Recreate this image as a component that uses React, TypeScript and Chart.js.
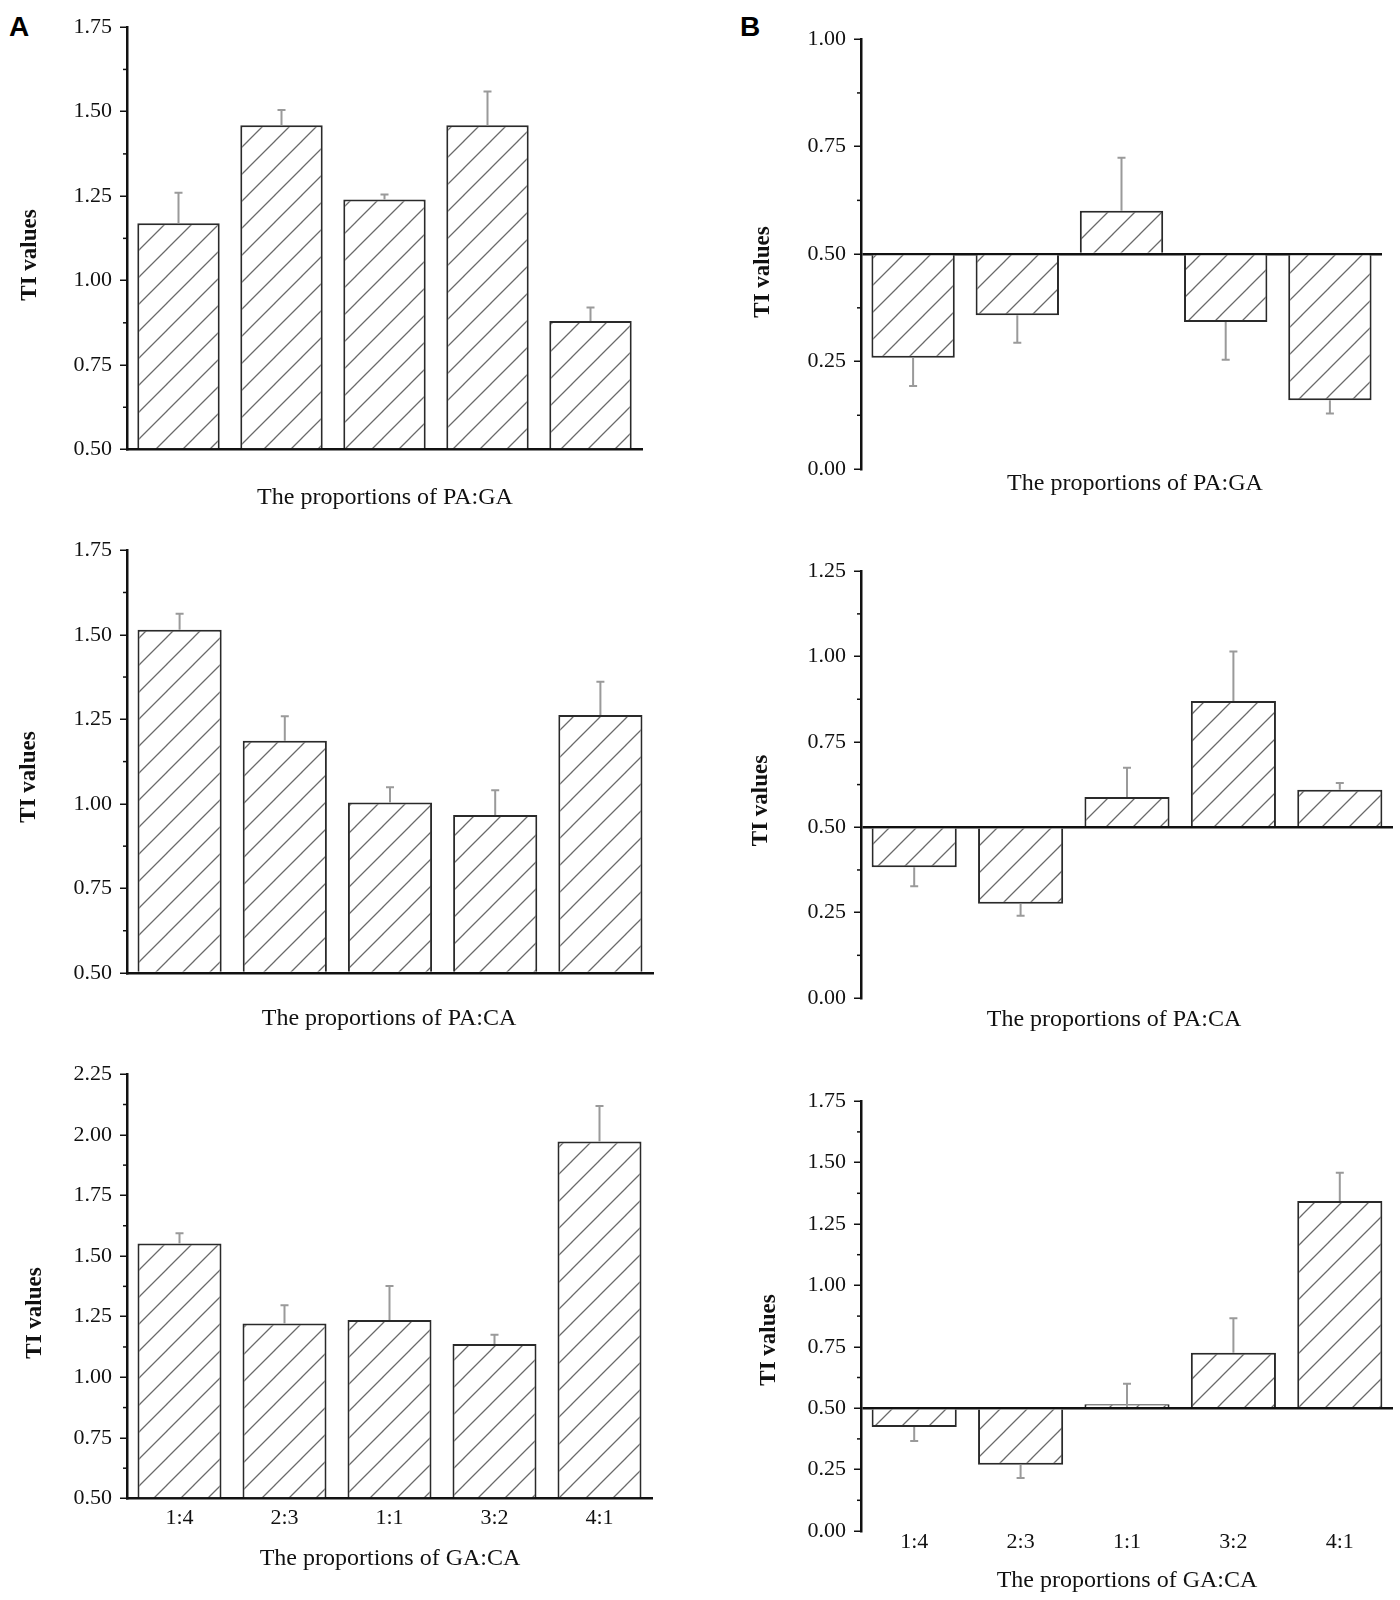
import React, { useEffect, useRef } from 'react';
import { Chart, registerables } from 'chart.js';

Chart.register(...registerables);

const SERIF = '"Liberation Serif", "Times New Roman", serif';
Chart.defaults.font.family = SERIF;

// proportions on the x axis
const PROPORTIONS = ['1:4', '2:3', '1:1', '3:2', '4:1'];

// column A: TI values and their upper error (SD)
const A_PA_GA = [1.17, 1.46, 1.24, 1.46, 0.88];
const A_PA_GA_SD = [0.09, 0.045, 0.015, 0.1, 0.04];
const A_PA_CA = [1.515, 1.187, 1.004, 0.967, 1.263];
const A_PA_CA_SD = [0.047, 0.072, 0.045, 0.073, 0.098];
const A_GA_CA = [1.552, 1.222, 1.236, 1.137, 1.972];
const A_GA_CA_SD = [0.042, 0.075, 0.14, 0.038, 0.147];

// column B: bars hang from the 0.50 line
const B_PA_GA = [0.259, 0.358, 0.601, 0.342, 0.16];
const B_PA_GA_SD = [0.066, 0.064, 0.123, 0.088, 0.031];
const B_PA_CA = [0.383, 0.276, 0.589, 0.87, 0.61];
const B_PA_CA_SD = [0.056, 0.035, 0.085, 0.145, 0.02];
const B_GA_CA = [0.423, 0.27, 0.505, 0.726, 1.344];
const B_GA_CA_SD = [0.057, 0.054, 0.095, 0.14, 0.115];

const BASE = 0.5;

function makeHatch(): CanvasPattern | string {
  const size = 27;
  const c = document.createElement('canvas');
  c.width = size;
  c.height = size;
  const g = c.getContext('2d');
  if (!g) return '#fff';
  g.fillStyle = '#fff';
  g.fillRect(0, 0, size, size);
  g.strokeStyle = '#6a6a6a';
  g.lineWidth = 1.3;
  g.beginPath();
  g.moveTo(-4, size + 4);
  g.lineTo(size + 4, -4);
  g.moveTo(-4, 4);
  g.lineTo(4, -4);
  g.moveTo(size - 4, size + 4);
  g.lineTo(size + 4, size - 4);
  g.stroke();
  return g.createPattern(c, 'repeat') || '#fff';
}

interface PanelProps {
  values: number[];
  sd: number[];
  yMin: number;
  yMax: number;
  xTitle: string;
  showTicks: boolean;
  refLine: boolean;
  left: number;
  axisX: number;
  right: number;
  top: number;
  bottom: number;
  xTitleAt: [number, number];
  yTitleAt: [number, number];
  tickPad: number;
}

const PAD_TOP = 20;
const PAD_RIGHT = 7;

const Panel: React.FC<PanelProps> = (p) => {
  const canvasRef = useRef<HTMLCanvasElement>(null);
  const chartRef = useRef<Chart | null>(null);

  const boxTop = p.top - PAD_TOP;
  const boxBottom = Math.max(p.xTitleAt[1] + 22, p.bottom + 30);
  const boxWidth = p.right + PAD_RIGHT - p.left;
  const boxHeight = boxBottom - boxTop;
  const yW = p.axisX - p.left;
  const xH = boxBottom - p.bottom;

  useEffect(() => {
    if (chartRef.current) chartRef.current.destroy();
    if (!canvasRef.current) return;
    const ctx = canvasRef.current.getContext('2d');
    if (!ctx) return;

    const decor = {
      id: 'decor',
      afterDatasetsDraw(chart: any) {
        const c = chart.ctx;
        const ys = chart.scales.y;
        const meta = chart.getDatasetMeta(0);
        c.save();
        c.strokeStyle = '#9a9a9a';
        c.lineWidth = 2;
        meta.data.forEach((bar: any, i: number) => {
          const v = p.values[i];
          const end = v >= BASE ? v + p.sd[i] : v - p.sd[i];
          const y0 = ys.getPixelForValue(v);
          const y1 = ys.getPixelForValue(end);
          c.beginPath();
          c.moveTo(bar.x, y0);
          c.lineTo(bar.x, y1);
          c.moveTo(bar.x - 4, y1);
          c.lineTo(bar.x + 4, y1);
          c.stroke();
        });
        c.restore();
      },
      afterDraw(chart: any) {
        const c = chart.ctx;
        const ys = chart.scales.y;
        const ax = chart.chartArea.left;
        c.save();
        // minor ticks between the labelled ones
        c.strokeStyle = '#111';
        c.lineWidth = 1.5;
        for (let v = p.yMin + 0.125; v < p.yMax; v += 0.25) {
          const py = ys.getPixelForValue(v);
          c.beginPath();
          c.moveTo(ax - 4, py);
          c.lineTo(ax, py);
          c.stroke();
        }
        c.fillStyle = '#111';
        c.textAlign = 'center';
        c.textBaseline = 'middle';
        c.font = `24px ${SERIF}`;
        c.fillText(p.xTitle, p.xTitleAt[0] - p.left, p.xTitleAt[1] - boxTop);
        c.translate(p.yTitleAt[0] - p.left, p.yTitleAt[1] - boxTop);
        c.rotate(-Math.PI / 2);
        c.font = `bold 23px ${SERIF}`;
        c.fillText('TI values', 0, 0);
        c.restore();
      },
    };

    chartRef.current = new Chart(ctx, {
      type: 'bar',
      data: {
        labels: PROPORTIONS,
        datasets: [
          {
            data: p.values,
            base: BASE,
            backgroundColor: makeHatch(),
            borderColor: '#2a2a2a',
            borderWidth: 2,
            borderSkipped: 'start',
            minBarLength: 4,
            barPercentage: 0.8,
            categoryPercentage: 1,
          } as any,
        ],
      },
      options: {
        animation: false,
        responsive: true,
        maintainAspectRatio: false,
        layout: { padding: { top: PAD_TOP, right: PAD_RIGHT, left: 0, bottom: 0 } },
        plugins: { legend: { display: false }, tooltip: { enabled: false } },
        scales: {
          x: {
            offset: true,
            grid: { display: false, drawTicks: false },
            border: { display: !p.refLine, color: '#111', width: 2.5 },
            ticks: {
              display: p.showTicks,
              padding: p.tickPad,
              color: '#111',
              font: { size: 22, family: SERIF },
            },
            afterFit: (s: any) => {
              s.height = xH;
            },
          },
          y: {
            min: p.yMin,
            max: p.yMax,
            ticks: {
              stepSize: 0.25,
              autoSkip: false,
              padding: 8,
              color: '#111',
              font: { size: 22, family: SERIF },
              callback: (v: any) => Number(v).toFixed(2),
            },
            grid: {
              drawOnChartArea: p.refLine,
              color: (c: any) =>
                p.refLine && c.tick && Math.abs(c.tick.value - BASE) < 1e-6 ? '#111' : 'rgba(0,0,0,0)',
              lineWidth: 2.5,
              tickColor: '#111',
              tickLength: 7,
              tickWidth: 1.5,
            },
            border: { display: true, color: '#111', width: 2.5 },
            afterFit: (s: any) => {
              s.width = yW;
            },
          },
        },
      },
      plugins: [decor],
    });

    return () => {
      if (chartRef.current) {
        chartRef.current.destroy();
        chartRef.current = null;
      }
    };
  }, []);

  return (
    <div
      style={{
        position: 'absolute',
        left: p.left,
        top: boxTop,
        width: boxWidth,
        height: boxHeight,
      }}
    >
      <canvas ref={canvasRef}></canvas>
    </div>
  );
};

const letterStyle = (left: number): React.CSSProperties => ({
  position: 'absolute',
  left,
  top: 13,
  font: 'bold 28px "Liberation Sans", Arial, sans-serif',
  lineHeight: '28px',
  color: '#000',
});

export default function App() {
  return (
    <div style={{ position: 'absolute', left: 0, top: 0, width: 1400, height: 1600, background: '#fff' }}>
      <div style={letterStyle(9)}>A</div>
      <div style={letterStyle(740)}>B</div>

      <Panel
        values={A_PA_GA} sd={A_PA_GA_SD} yMin={0.5} yMax={1.75}
        xTitle="The proportions of PA:GA" showTicks={false} refLine={false}
        left={5} axisX={127} right={642} top={26} bottom={449.5}
        xTitleAt={[385, 498]} yTitleAt={[30.5, 255]} tickPad={8}
      />
      <Panel
        values={A_PA_CA} sd={A_PA_CA_SD} yMin={0.5} yMax={1.75}
        xTitle="The proportions of PA:CA" showTicks={false} refLine={false}
        left={5} axisX={127} right={653} top={549} bottom={973}
        xTitleAt={[389, 1019]} yTitleAt={[29, 777]} tickPad={8}
      />
      <Panel
        values={A_GA_CA} sd={A_GA_CA_SD} yMin={0.5} yMax={2.25}
        xTitle="The proportions of GA:CA" showTicks={true} refLine={false}
        left={5} axisX={127} right={652} top={1073} bottom={1498.5}
        xTitleAt={[390, 1559]} yTitleAt={[35, 1313]} tickPad={7}
      />
      <Panel
        values={B_PA_GA} sd={B_PA_GA_SD} yMin={0} yMax={1}
        xTitle="The proportions of PA:GA" showTicks={false} refLine={true}
        left={735} axisX={861} right={1382} top={38} bottom={469}
        xTitleAt={[1135, 484]} yTitleAt={[763, 272]} tickPad={0}
      />
      <Panel
        values={B_PA_CA} sd={B_PA_CA_SD} yMin={0} yMax={1.25}
        xTitle="The proportions of PA:CA" showTicks={false} refLine={true}
        left={735} axisX={861} right={1393} top={569.5} bottom={997.5}
        xTitleAt={[1114, 1019]} yTitleAt={[761, 800]} tickPad={0}
      />
      <Panel
        values={B_GA_CA} sd={B_GA_CA_SD} yMin={0} yMax={1.75}
        xTitle="The proportions of GA:CA" showTicks={true} refLine={true}
        left={735} axisX={861} right={1393} top={1100} bottom={1531}
        xTitleAt={[1127, 1581]} yTitleAt={[769.5, 1340]} tickPad={-2}
      />
    </div>
  );
}
